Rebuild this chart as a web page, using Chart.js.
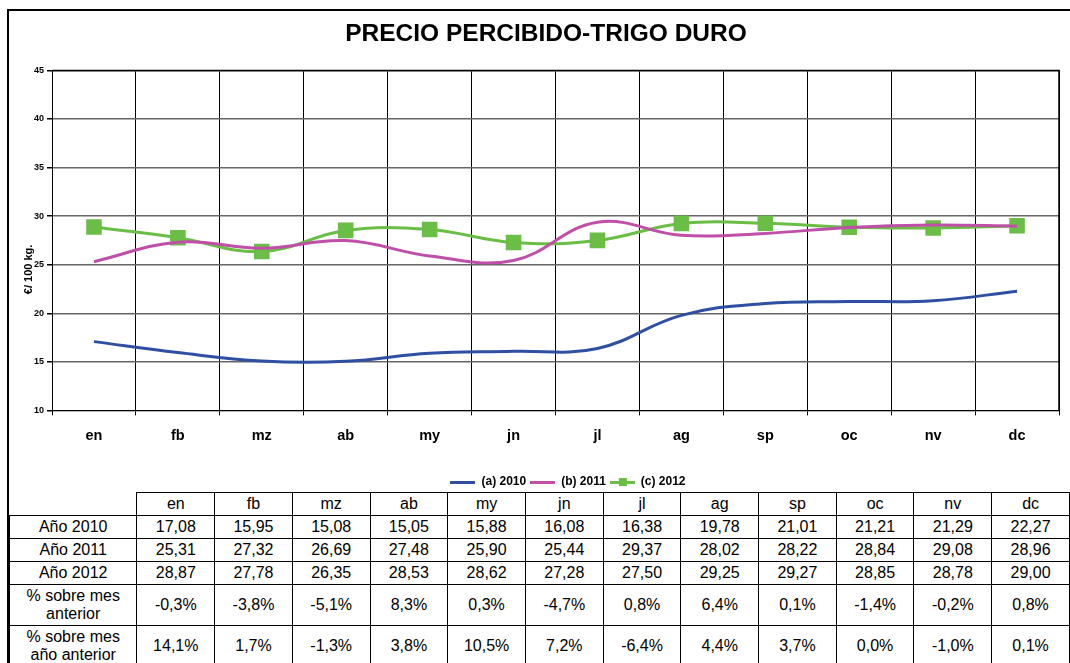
<!DOCTYPE html>
<html>
<head>
<meta charset="utf-8">
<script src="https://cdn.jsdelivr.net/npm/chart.js@4.4.1/dist/chart.umd.min.js"></script>
<style>
  body { margin: 0; background: #fff; font-family: "Liberation Sans", Arial, sans-serif; }
  #frame { position: absolute; left: 7px; top: 9px; width: 1080px; height: 700px; border-left: 2px solid #000; border-top: 2px solid #000; }
  #wrap { position: absolute; left: 10px; top: 12px; width: 1060px; height: 486px; }
  table { position: absolute; left: 9px; top: 492px; border-collapse: collapse; font-size: 16px; color: #000; background: #fff; }
  td { border: 1px solid #000; text-align: center; padding: 0; height: 22px; width: 77px; line-height: 18px; }
  td.lab { width: 127px; }
  td.empty { border-top: none; border-left: none; }
  tr.tall td { height: 40px; }
</style>
</head>
<body>
<div id="frame"></div>
<div id="wrap"><canvas id="lineChart"></canvas></div>
<table id="tbl"></table>
<script>
var months = ["en", "fb", "mz", "ab", "my", "jn", "jl", "ag", "sp", "oc", "nv", "dc"];
var precio2010 = [17.08, 15.95, 15.08, 15.05, 15.88, 16.08, 16.38, 19.78, 21.01, 21.21, 21.29, 22.27];
var precio2011 = [25.31, 27.32, 26.69, 27.48, 25.90, 25.44, 29.37, 28.02, 28.22, 28.84, 29.08, 28.96];
var precio2012 = [28.87, 27.78, 26.35, 28.53, 28.62, 27.28, 27.50, 29.25, 29.27, 28.85, 28.78, 29.00];
var pctMesAnterior = ["-0,3%", "-3,8%", "-5,1%", "8,3%", "0,3%", "-4,7%", "0,8%", "6,4%", "0,1%", "-1,4%", "-0,2%", "0,8%"];
var pctAnoAnterior = ["14,1%", "1,7%", "-1,3%", "3,8%", "10,5%", "7,2%", "-6,4%", "4,4%", "3,7%", "0,0%", "-1,0%", "0,1%"];

var azul = '#2f4fa3', magenta = '#bf4fa8', verde = '#6abd45';

// small legend swatches: a line, with a square for the 2012 series
function swatch(color, square) {
  var c = document.createElement('canvas');
  c.width = 25; c.height = 10;
  var g = c.getContext('2d');
  g.fillStyle = color;
  g.fillRect(0, 4, 25, 3);
  if (square) g.fillRect(9, 1, 8, 8);
  return c;
}

var fmt = function(v) { return v.toFixed(2).replace('.', ','); };

// data table under the chart
var tbl = document.getElementById('tbl');
var html = '<tr><td class="lab empty"></td>' + months.map(function(m){ return '<td>' + m + '</td>'; }).join('') + '</tr>';
[["Año 2010", precio2010], ["Año 2011", precio2011], ["Año 2012", precio2012]].forEach(function(r) {
  html += '<tr><td class="lab">' + r[0] + '</td>' + r[1].map(function(v){ return '<td>' + fmt(v) + '</td>'; }).join('') + '</tr>';
});
html += '<tr class="tall"><td class="lab">% sobre mes<br>anterior</td>' + pctMesAnterior.map(function(v){ return '<td>' + v + '</td>'; }).join('') + '</tr>';
html += '<tr class="tall"><td class="lab">% sobre mes<br>año anterior</td>' + pctAnoAnterior.map(function(v){ return '<td>' + v + '</td>'; }).join('') + '</tr>';
tbl.innerHTML = html;

var ctx = document.getElementById('lineChart').getContext('2d');
var chart = new Chart(ctx, {
  type: 'line',
  data: {
    labels: months,
    datasets: [
      {
        label: '(a) 2010',
        data: precio2010,
        borderColor: azul,
        backgroundColor: azul,
        borderWidth: 3,
        pointRadius: 0,
        tension: 0.4
      },
      {
        label: '(b) 2011',
        data: precio2011,
        borderColor: magenta,
        backgroundColor: magenta,
        borderWidth: 3,
        pointRadius: 0,
        tension: 0.4
      },
      {
        label: '(c) 2012',
        data: precio2012,
        borderColor: verde,
        backgroundColor: verde,
        borderWidth: 3,
        pointRadius: 11,
        pointStyle: 'rect',
        pointBorderWidth: 0,
        tension: 0.4
      }
    ]
  },
  options: {
    responsive: true,
    maintainAspectRatio: false,
    animation: false,
    layout: { padding: { left: 21, right: 9, top: 0, bottom: 0 } },
    plugins: {
      title: {
        display: true,
        text: 'PRECIO PERCIBIDO-TRIGO DURO',
        color: '#000',
        font: { family: 'Liberation Sans', size: 24.5, weight: 'bold' },
        padding: { top: 8, bottom: 21 }
      },
      legend: {
        position: 'bottom',
        title: { display: true, text: ' ', font: { size: 1 }, padding: { top: 0, bottom: 14 } },
        labels: {
          color: '#000',
          font: { family: 'Liberation Sans', size: 12, weight: 'bold' },
          usePointStyle: true,
          pointStyleWidth: 25,
          boxHeight: 10,
          padding: 4,
          generateLabels: function(ch) {
            return ch.data.datasets.map(function(ds, i) {
              return {
                text: ds.label,
                pointStyle: swatch(ds.borderColor, i === 2),
                fillStyle: ds.borderColor,
                strokeStyle: ds.borderColor,
                fontColor: '#000',
                lineWidth: 0,
                datasetIndex: i
              };
            });
          }
        }
      },
      tooltip: { enabled: false }
    },
    scales: {
      x: {
        offset: true,
        grid: { offset: true, color: '#000', lineWidth: 1, tickLength: 5, drawTicks: true },
        border: { color: '#000', width: 1 },
        ticks: {
          color: '#000',
          padding: 12,
          font: { family: 'Liberation Sans', size: 14.5, weight: 'bold' }
        }
      },
      y: {
        min: 10,
        max: 45,
        ticks: {
          stepSize: 5,
          color: '#000',
          padding: 3,
          font: { family: 'Liberation Sans', size: 9, weight: 'bold' }
        },
        grid: { color: '#666', lineWidth: 1.5, tickLength: 5, tickColor: '#000' },
        border: { color: '#000', width: 1 }
      }
    }
  },
  plugins: [{
    id: 'legendShift',
    afterLayout: function(ch) {
      // the original legend sits a little right of centre
      ch.legend.left += 22;
      ch.legend.right += 22;
    }
  }, {
    id: 'plotBorder',
    afterDraw: function(ch) {
      var a = ch.chartArea, g = ch.ctx;
      g.save();
      g.strokeStyle = '#000';
      g.lineWidth = 1.5;
      g.beginPath();
      g.moveTo(a.left, a.top); g.lineTo(a.right, a.top); g.lineTo(a.right, a.bottom);
      g.stroke();
      // y axis title, set a bit below the middle like the original
      g.translate(a.left - 23, (a.top + a.bottom) / 2 + 29);
      g.rotate(-Math.PI / 2);
      g.fillStyle = '#000';
      g.font = 'bold 11px "Liberation Sans"';
      g.textAlign = 'center';
      g.textBaseline = 'middle';
      g.fillText('€/ 100 kg.', 0, 0);
      g.restore();
    }
  }]
});
</script>
</body>
</html>
